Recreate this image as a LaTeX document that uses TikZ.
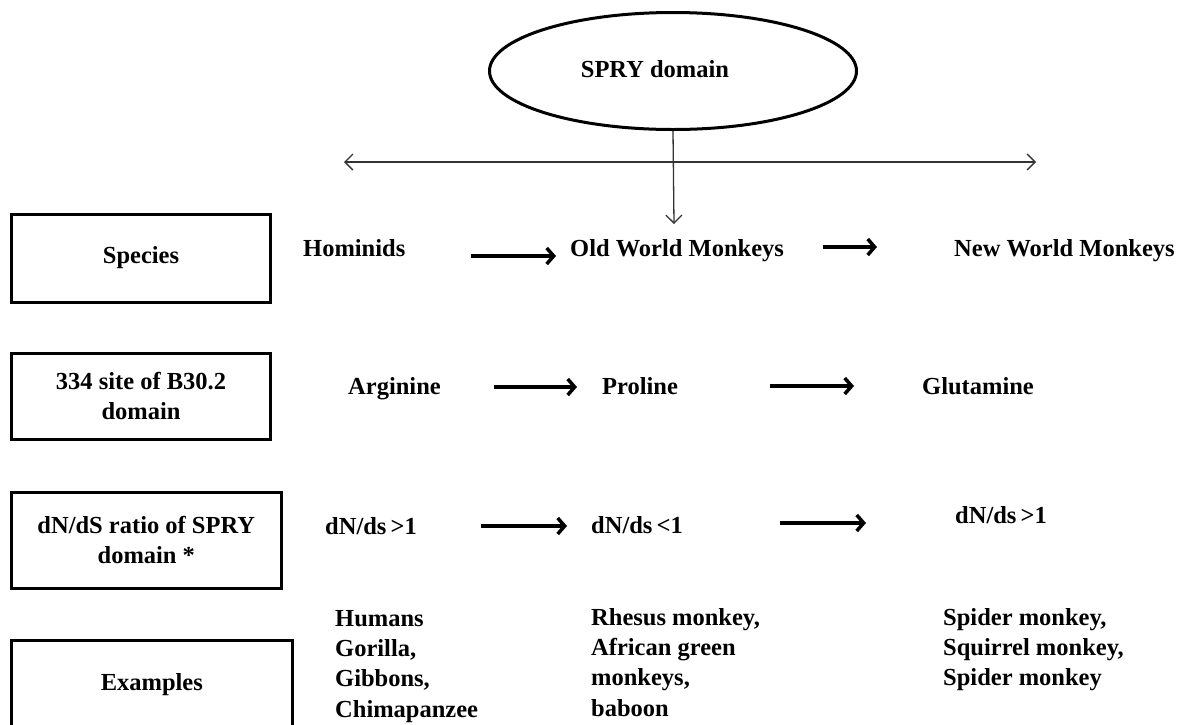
\documentclass[tikz,border=0pt]{standalone}
\usepackage{fontspec}
\setmainfont{Liberation Serif}
\usetikzlibrary{arrows.meta,shapes.geometric}
\begin{document}
\begin{tikzpicture}[x=1pt,y=-1pt,
  every node/.style={font=\fontsize{24.5}{30}\selectfont\bfseries, inner sep=0pt},
  rowbox/.style={draw, line width=3pt, minimum height=#1},
  lbl/.style={anchor=base west},
  lst/.style={anchor=north west, align=left, font=\fontsize{24.5}{30.3}\selectfont\bfseries},
  bigarrow/.style={line width=3.5pt, -{Straight Barb[length=7pt,width=16pt]}},
  thinarrow/.style={line width=1.3pt, draw=black!80, -{Straight Barb[length=8pt,width=16pt]}},
  thinboth/.style={line width=1.3pt, draw=black!80, {Straight Barb[length=8pt,width=16pt]}-{Straight Barb[length=8pt,width=16pt]}}
]
\useasboundingbox (0,0) rectangle (1194,724);
\clip (0,0) rectangle (1194,724);

% top
\node[draw, ellipse, line width=3pt, minimum width=367pt, minimum height=117pt] (spry) at (673,71) {};
\node (sprytext) at (655,69) {SPRY domain};
\coordinate (hl) at (344,162);
\coordinate (hr) at (1036,162);
\coordinate (dtip) at (674,224);
\draw[thinboth] (hl) -- (hr);
\draw[thinarrow] (spry.south) -- (dtip);

% left boxes
\node[rowbox=88pt, minimum width=259pt] (species) at (141,258) {Species};
\node[rowbox=86pt, minimum width=259pt, align=center] (site) at (141,396) {334 site of B30.2\\domain};
\node[rowbox=96pt, minimum width=269.5pt, align=center] (ratio) at (146.3,540) {dN/dS ratio of SPRY\\domain *};
\node[rowbox=90pt, minimum width=280.5pt] (examples) at (151.8,685) {Examples};

% row 1
\node[lbl] (hom) at (303,256) {Hominids};
\node[lbl] (owm) at (570,256) {Old World Monkeys};
\node[lbl] (nwm) at (954,256) {New World Monkeys};
\coordinate (a1s) at (471,256); \coordinate (a1e) at (556,256);
\coordinate (a2s) at (823,247); \coordinate (a2e) at (877,247);
\draw[bigarrow] (a1s) -- (a1e);
\draw[bigarrow] (a2s) -- (a2e);

% row 2
\node[lbl] (arg) at (348,394) {Arginine};
\node[lbl] (pro) at (602,394) {Proline};
\node[lbl] (glu) at (922,394) {Glutamine};
\coordinate (a3s) at (494,387); \coordinate (a3e) at (577,387);
\coordinate (a4s) at (770,386); \coordinate (a4e) at (854,386);
\draw[bigarrow] (a3s) -- (a3e);
\draw[bigarrow] (a4s) -- (a4e);

% row 3
\node[lbl] (r1) at (325,534) {dN/ds\,>1};
\node[lbl] (r2) at (591,533) {dN/ds\,<1};
\node[lbl] (r3) at (955,523) {dN/ds\,>1};
\coordinate (a5s) at (481,526); \coordinate (a5e) at (567,526);
\coordinate (a6s) at (780,523); \coordinate (a6e) at (866,523);
\draw[bigarrow] (a5s) -- (a5e);
\draw[bigarrow] (a6s) -- (a6e);

% row 4
\node[lst] (ex1) at (335,610) {Humans\\Gorilla,\\Gibbons,\\Chimapanzee};
\node[lst] (ex2) at (591,608) {Rhesus monkey,\\African green\\monkeys,\\baboon};
\node[lst] (ex3) at (943,608) {Spider monkey,\\Squirrel monkey,\\Spider monkey};
\end{tikzpicture}
\end{document}
